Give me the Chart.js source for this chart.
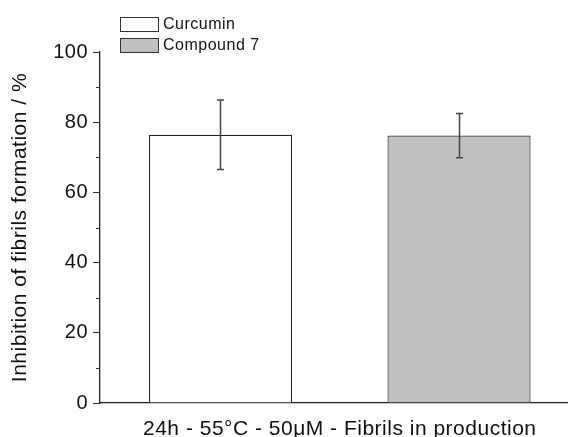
<!DOCTYPE html>
<html>
<head>
<meta charset="utf-8">
<script src="https://cdn.jsdelivr.net/npm/chart.js@4"></script>
<style>
  html, body { margin: 0; padding: 0; background: #fff; overflow: hidden; }
  canvas { display: block; }
</style>
</head>
<body>
<canvas id="c" width="600" height="437"></canvas>
<script>
const categories = ['24h - 55°C - 50μM - Fibrils in production'];
const seriesNames = ['Curcumin', 'Compound 7'];
const curcuminValues = [76.4];
const curcuminErrors = [9.9];
const compound7Values = [76.2];
const compound7Errors = [6.3];
const yMajorTicks = [0, 20, 40, 60, 80, 100];
const yMinorTicks = [10, 30, 50, 70, 90];

const FONT = "'Liberation Sans', Arial, sans-serif";
const TEXT = '#111';

const spacingPlugin = {
  id: 'spacing',
  beforeDraw(chart) { chart.ctx.letterSpacing = '0.5px'; }
};

const minorTickPlugin = {
  id: 'minorTicks',
  afterDraw(chart) {
    const ctx = chart.ctx, y = chart.scales.y, left = chart.chartArea.left;
    ctx.save();
    ctx.strokeStyle = '#333';
    ctx.lineWidth = 1;
    yMinorTicks.forEach(v => {
      const py = Math.round(y.getPixelForValue(v)) + 0.5;
      ctx.beginPath();
      ctx.moveTo(left - 4, py);
      ctx.lineTo(left, py);
      ctx.stroke();
    });
    ctx.restore();
  }
};

const errorBarPlugin = {
  id: 'errorBars',
  afterDatasetsDraw(chart) {
    const ctx = chart.ctx, y = chart.scales.y;
    ctx.save();
    ctx.strokeStyle = '#444';
    ctx.lineWidth = 1.5;
    chart.data.datasets.forEach((ds, i) => {
      const meta = chart.getDatasetMeta(i);
      meta.data.forEach((bar, j) => {
        const v = ds.data[j], e = ds.errors[j];
        const x = Math.round(bar.x) + 0.5;
        const yHi = y.getPixelForValue(v + e);
        const yLo = y.getPixelForValue(v - e);
        ctx.beginPath();
        ctx.moveTo(x, yHi); ctx.lineTo(x, yLo);
        ctx.moveTo(x - 3.5, yHi); ctx.lineTo(x + 3.5, yHi);
        ctx.moveTo(x - 3.5, yLo); ctx.lineTo(x + 3.5, yLo);
        ctx.stroke();
      });
    });
    ctx.restore();
  }
};

const legendPlugin = {
  id: 'customLegend',
  afterDraw(chart) {
    const ctx = chart.ctx;
    ctx.save();
    ctx.letterSpacing = '0.5px';
    ctx.font = '16px ' + FONT;
    ctx.textBaseline = 'middle';
    ctx.textAlign = 'left';
    chart.data.datasets.forEach((ds, i) => {
      const bx = 120.5, by = 17.5 + i * 21, bw = 38, bh = 14;
      ctx.fillStyle = ds.backgroundColor;
      ctx.fillRect(bx, by, bw, bh);
      ctx.strokeStyle = '#333';
      ctx.lineWidth = 1;
      ctx.strokeRect(bx, by, bw, bh);
      ctx.fillStyle = TEXT;
      ctx.fillText(ds.label, 163, by + bh / 2 + 0.5);
    });
    ctx.restore();
  }
};

new Chart(document.getElementById('c'), {
  type: 'bar',
  data: {
    labels: categories,
    datasets: [
      {
        label: seriesNames[0],
        data: curcuminValues,
        errors: curcuminErrors,
        backgroundColor: '#ffffff',
        borderColor: '#222',
        borderWidth: 1.2,
        categoryPercentage: 0.995,
        barPercentage: 0.6
      },
      {
        label: seriesNames[1],
        data: compound7Values,
        errors: compound7Errors,
        backgroundColor: '#c0c0c0',
        borderColor: '#333',
        borderWidth: 1.2,
        categoryPercentage: 0.995,
        barPercentage: 0.6
      }
    ]
  },
  options: {
    responsive: false,
    animation: false,
    devicePixelRatio: 1,
    layout: { padding: { top: 52, right: 20.5, bottom: 0, left: 0 } },
    plugins: { legend: { display: false }, tooltip: { enabled: false } },
    scales: {
      x: {
        grid: { display: false },
        border: { display: true, color: '#222', width: 1.3 },
        ticks: { color: TEXT, font: { family: FONT, size: 21 }, padding: 6 },
        afterFit(s) { s.height = 34; }
      },
      y: {
        min: 0,
        max: 100,
        afterBuildTicks(s) { s.ticks = yMajorTicks.map(v => ({ value: v })); },
        grid: { drawOnChartArea: false, drawTicks: true, tickLength: 7, color: '#333', lineWidth: 1 },
        border: { display: true, color: '#222', width: 1.3 },
        ticks: { color: TEXT, font: { family: FONT, size: 20 }, padding: 5 },
        title: {
          display: true,
          text: 'Inhibition of fibrils formation / %',
          color: TEXT,
          font: { family: FONT, size: 21 },
          padding: { top: 8, bottom: 0 }
        },
        afterFit(s) { s.width = 100; }
      }
    }
  },
  plugins: [spacingPlugin, minorTickPlugin, errorBarPlugin, legendPlugin]
});
</script>
</body>
</html>
